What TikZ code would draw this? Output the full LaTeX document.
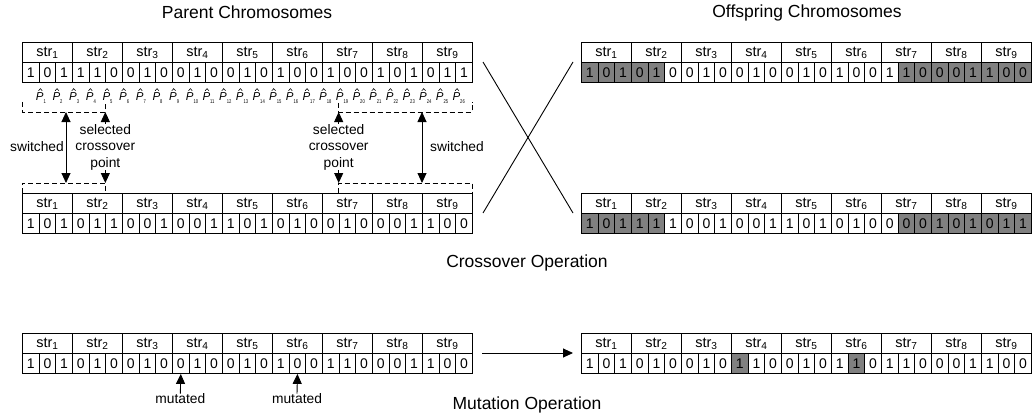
\documentclass[tikz,border=0pt]{standalone}
\usepackage{fontspec}
\usepackage{graphicx}
\setmainfont{Liberation Sans}
\usetikzlibrary{arrows.meta}
\definecolor{shade}{RGB}{128,128,128}
\tikzset{
  hdr/.style={draw=black, line width=0.9pt, minimum width=50pt, minimum height=20pt, inner sep=0pt, anchor=north west, font=\fontsize{14.5}{14.5}\selectfont},
  bitcell/.style={draw=black, line width=0.9pt, minimum width=16.6667pt, minimum height=20pt, inner sep=0pt, anchor=north west, font=\fontsize{14}{14}\selectfont},
  phat/.style={inner sep=0pt, anchor=base west},
  hatmark/.style={draw=black, line width=0.55pt},
  lbl/.style={inner sep=0pt, align=center, font=\fontsize{13.8}{16.5}\selectfont},
  title/.style={inner sep=0pt, font=\fontsize{17.5}{17.5}\selectfont},
  brk/.style={draw=black, line width=0.9pt, dash pattern=on 5pt off 3pt},
  arr/.style={draw=black, line width=0.9pt, -{Triangle[length=10pt,width=9pt]}},
  darr/.style={draw=black, line width=0.9pt, {Triangle[length=10pt,width=9pt]}-{Triangle[length=10pt,width=9pt]}},
  thin/.style={draw=black, line width=0.9pt}
}
\newcommand\chromo[4]{%
  \foreach \k in {1,...,9}{
    \node[hdr] (#1h\k) at ({#2+(\k-1)*50}, #3) {str\textsubscript{\k}};
  }
  \foreach \b/\g [count=\i] in {#4}{
    \ifnum\g=1 \def\fillc{shade}\else\def\fillc{white}\fi
    \node[bitcell, fill=\fillc] (#1b\i) at ({#2+(\i-1)*50/3}, #3+20) {\b};
  }
}
\newcommand\ph[1]{{\fontsize{11.5}{11.5}\selectfont\itshape P}\raisebox{-2pt}{\scalebox{0.75}[1]{\fontsize{5.5}{5.5}\selectfont #1}}}
\begin{document}
\begin{tikzpicture}[x=1pt, y=-1pt]
\useasboundingbox (0,0) rectangle (1032,417);

% titles
\node[title] (tpar) at (247,12.5) {Parent Chromosomes};
\node[title] (toff) at (807,12.5) {Offspring Chromosomes};

% parent chromosomes
\chromo{pa}{22}{42}{1/0,0/0,1/0,1/0,1/0,0/0,0/0,1/0,0/0,0/0,1/0,0/0,0/0,1/0,0/0,1/0,0/0,0/0,1/0,0/0,0/0,1/0,0/0,1/0,0/0,1/0,1/0}
\chromo{pb}{22}{193}{1/0,0/0,1/0,0/0,1/0,1/0,0/0,0/0,1/0,0/0,0/0,1/0,1/0,0/0,1/0,0/0,1/0,0/0,0/0,1/0,0/0,0/0,0/0,1/0,1/0,0/0,0/0}

% offspring
\chromo{oa}{581}{42}{1/1,0/1,1/1,0/1,1/1,0/0,0/0,1/0,0/0,0/0,1/0,0/0,0/0,1/0,0/0,1/0,0/0,0/0,1/0,1/1,0/1,0/1,0/1,1/1,1/1,0/1,0/1}
\chromo{ob}{581}{193}{1/1,0/1,1/1,1/1,1/1,1/0,0/0,0/0,1/0,0/0,0/0,1/0,1/0,0/0,1/0,0/0,1/0,0/0,0/0,0/1,0/1,1/1,0/1,1/1,0/1,1/1,1/1}

% crossover point labels (P with hat)
\foreach \i in {1,...,26}{
  \node[phat] (ph\i) at ({22+\i*50/3-3}, 101) {\ph{\i}};
  \draw[hatmark] ({22+\i*50/3-0.2}, 90.8) -- ({22+\i*50/3+1.7}, 88.6) -- ({22+\i*50/3+3.6}, 90.8);
}

% brackets
\coordinate (a1) at (22,102); \coordinate (a2) at (22,112);
\coordinate (a3) at (105.33,112); \coordinate (a4) at (105.33,103);
\draw[brk] (a1) -- (a2) -- (a3) -- (a4);
\coordinate (b1) at (338.67,103); \coordinate (b2) at (338.67,112);
\coordinate (b3) at (472,112); \coordinate (b4) at (472,102);
\draw[brk] (b1) -- (b2) -- (b3) -- (b4);
\coordinate (c1) at (22,193); \coordinate (c2) at (22,183);
\coordinate (c3) at (105.33,183); \coordinate (c4) at (105.33,193);
\draw[brk] (c1) -- (c2) -- (c3) -- (c4);
\coordinate (d1) at (338.67,193); \coordinate (d2) at (338.67,183);
\coordinate (d3) at (472,183); \coordinate (d4) at (472,193);
\draw[brk] (d1) -- (d2) -- (d3) -- (d4);

% switched arrows
\coordinate (s1t) at (66,112); \coordinate (s1b) at (66,183);
\draw[darr] (s1t) -- (s1b);
\coordinate (s2t) at (422,112); \coordinate (s2b) at (422,183);
\draw[darr] (s2t) -- (s2b);
\node[lbl] (sw1) at (37,147) {switched};
\node[lbl] (sw2) at (457,147) {switched};

% selected crossover point labels
\node[lbl] (sel1) at (105.33,147) {selected\\crossover\\point};
\node[lbl] (sel2) at (338.67,147) {selected\\crossover\\point};
\draw[arr] (sel1.north) -- (a3);
\draw[arr] (sel1.south) -- (c3);
\draw[arr] (sel2.north) -- (b2);
\draw[arr] (sel2.south) -- (d2);

% cross lines
\coordinate (x1) at (483,62); \coordinate (x2) at (573,213);
\coordinate (x3) at (483,213); \coordinate (x4) at (573,62);
\draw[thin] (x1) -- (x2);
\draw[thin] (x3) -- (x4);

\node[title] (cop) at (527,263) {Crossover Operation};

% mutation
\chromo{ma}{22}{333}{1/0,0/0,1/0,0/0,1/0,0/0,0/0,1/0,0/0,0/0,1/0,0/0,0/0,1/0,0/0,1/0,0/0,0/0,1/0,1/0,0/0,0/0,0/0,1/0,1/0,0/0,0/0}
\chromo{mb}{581}{333}{1/0,0/0,1/0,0/0,1/0,0/0,0/0,1/0,0/0,1/1,1/0,0/0,0/0,1/0,0/0,1/0,1/1,0/0,1/0,1/0,0/0,0/0,0/0,1/0,1/0,0/0,0/0}
\coordinate (m1) at (482,353); \coordinate (m2) at (573,353);
\draw[arr] (m1) -- (m2);

\node[lbl] (mu1) at (180.33,399) {mutated};
\node[lbl] (mu2) at (297,399) {mutated};
\draw[arr] (mu1.north) -- (mab10.south);
\draw[arr] (mu2.north) -- (mab17.south);

\node[title] (mop) at (527,405) {Mutation Operation};
\end{tikzpicture}
\end{document}
